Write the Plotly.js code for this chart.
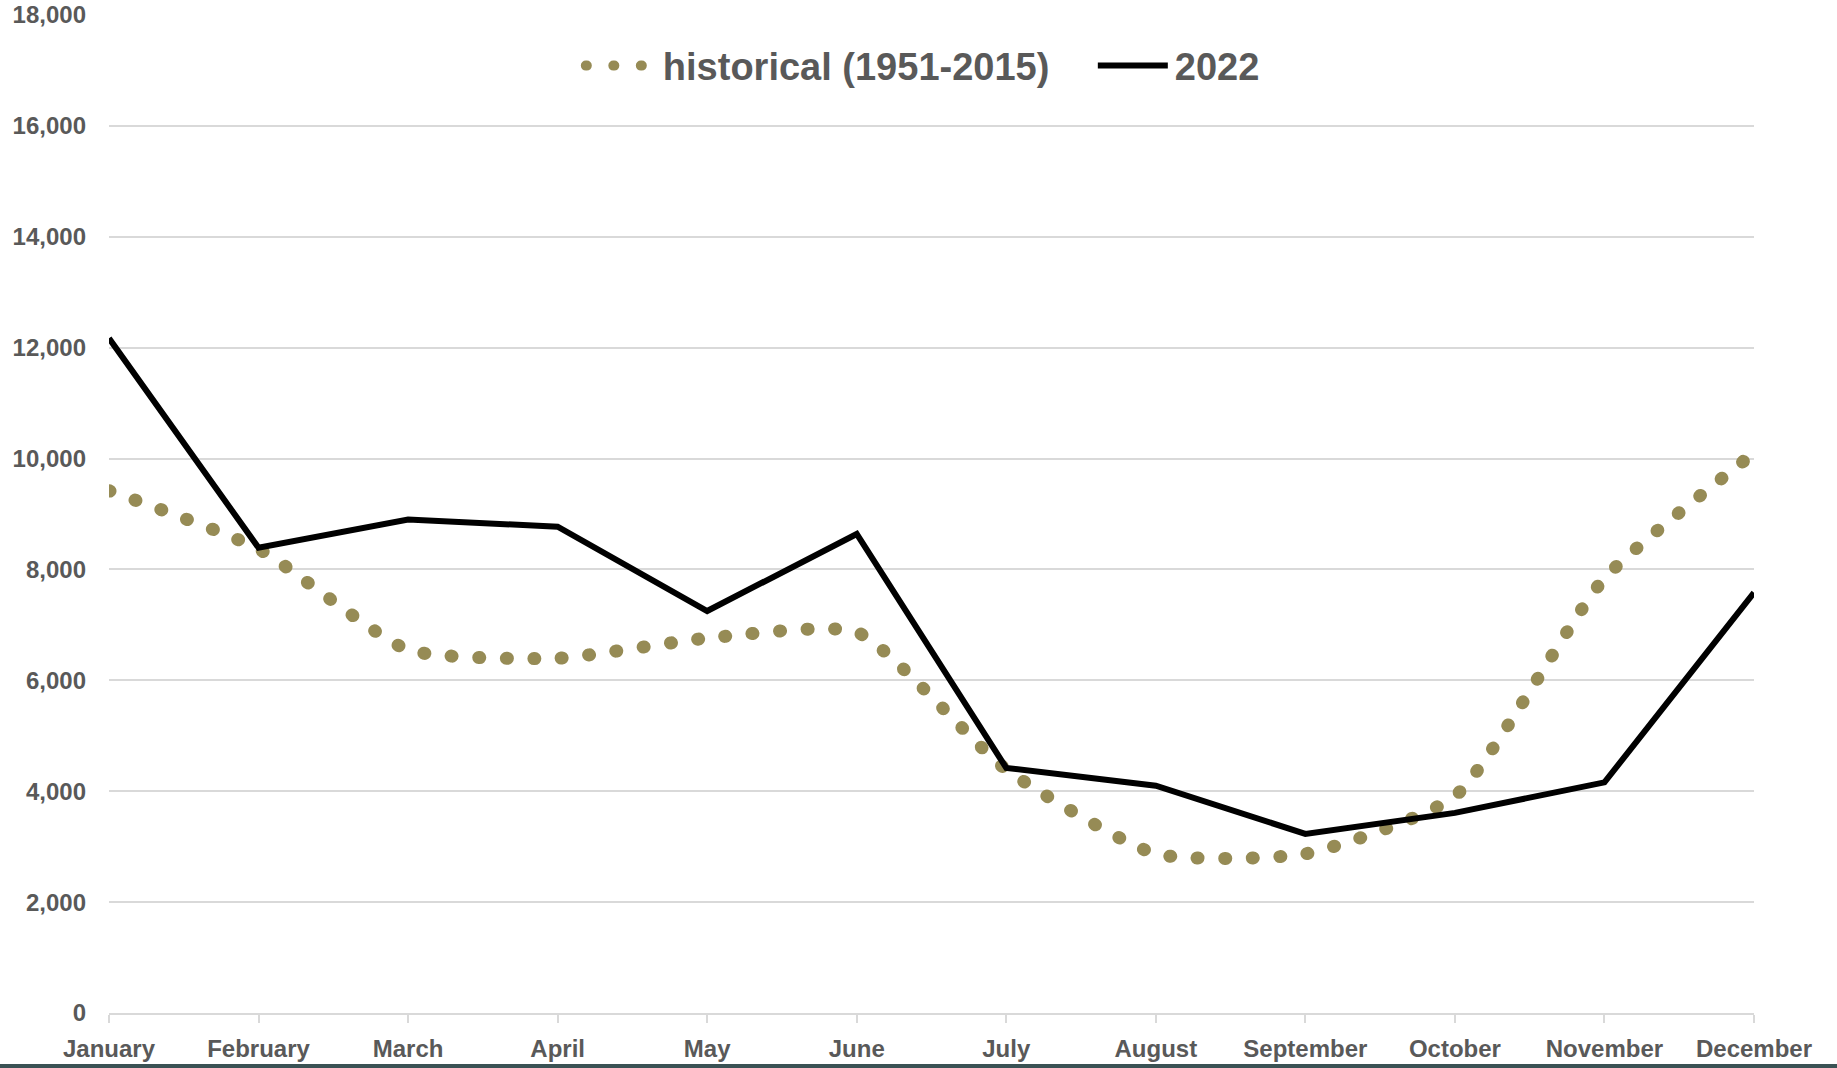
<!DOCTYPE html>
<html>
<head>
<meta charset="utf-8">
<script src="https://cdn.plot.ly/plotly-3.0.1.min.js"></script>
<style>
  html, body { margin: 0; padding: 0; background: #ffffff; overflow: hidden; }
  #chart { width: 1837px; height: 1068px; }
  .scatterlayer .trace:first-child path.js-line,
  .legend .traces:first-child path.js-line { stroke-linecap: round; }
  .legend .traces:first-child path.js-line { d: path("M8,0h56"); }
  .legend .traces:nth-child(2) path.js-line { d: path("M8,0h70"); }
  #strip { position: fixed; left: 0; bottom: 0; width: 1837px; height: 4px; background: #3a5254; }
</style>
</head>
<body>
<div id="chart"></div>
<div id="strip"></div>
<script>
const months = ["January","February","March","April","May","June","July","August","September","October","November","December"];
const historical = [9420, 8370, 6550, 6400, 6760, 6870, 4390, 2870, 2870, 3910, 7840, 10100];
const y2022 = [12170, 8390, 8900, 8770, 7250, 8640, 4420, 4100, 3230, 3610, 4160, 7580];
const yTickVals = [0, 2000, 4000, 6000, 8000, 10000, 12000, 14000, 16000, 18000];
const yTickText = ["0","2,000","4,000","6,000","8,000","10,000","12,000","14,000","16,000","18,000"];

const FONT = "'Liberation Sans Narrow', 'Arial Narrow', 'Liberation Sans', sans-serif";
const GREY = "#595959";

const traces = [
  {
    x: months, y: historical, name: "historical (1951-2015)", type: "scatter", mode: "lines",
    line: { color: "#968B55", width: 13, dash: "1px,26.5px", shape: "spline", smoothing: 0.55 }
  },
  {
    x: months, y: y2022, name: "2022", type: "scatter", mode: "lines",
    line: { color: "#000000", width: 6, shape: "linear" }
  }
];

const layout = {
  width: 1837, height: 1068,
  margin: { l: 109, r: 83, t: 15, b: 55 },
  paper_bgcolor: "#ffffff", plot_bgcolor: "#ffffff",
  showlegend: true,
  legend: {
    orientation: "h", x: 0.285, xanchor: "left", y: 0.949, yanchor: "middle",
    bgcolor: "#ffffff",
    font: { family: FONT, size: 38, color: GREY, weight: "bold" },
    itemwidth: 75,
    entrywidth: 422, entrywidthmode: "pixels"
  },
  xaxis: {
    type: "category", range: [0, 11],
    showgrid: false, showline: true, linecolor: "#d9d9d9", linewidth: 2,
    ticks: "outside", ticklen: 8, tickcolor: "#d9d9d9", tickwidth: 2,
    ticklabelstandoff: 5,
    tickfont: { family: FONT, size: 24, color: GREY, weight: "bold" },
    zeroline: false
  },
  yaxis: {
    range: [0, 18000], tickvals: yTickVals, ticktext: yTickText,
    showgrid: true, gridcolor: "#d9d9d9", gridwidth: 2,
    showline: false, zeroline: false, ticks: "",
    ticklabelstandoff: 22,
    tickfont: { family: FONT, size: 24, color: GREY, weight: "bold" }
  }
};

Plotly.newPlot("chart", traces, layout, { displayModeBar: false, staticPlot: true });
</script>
</body>
</html>
